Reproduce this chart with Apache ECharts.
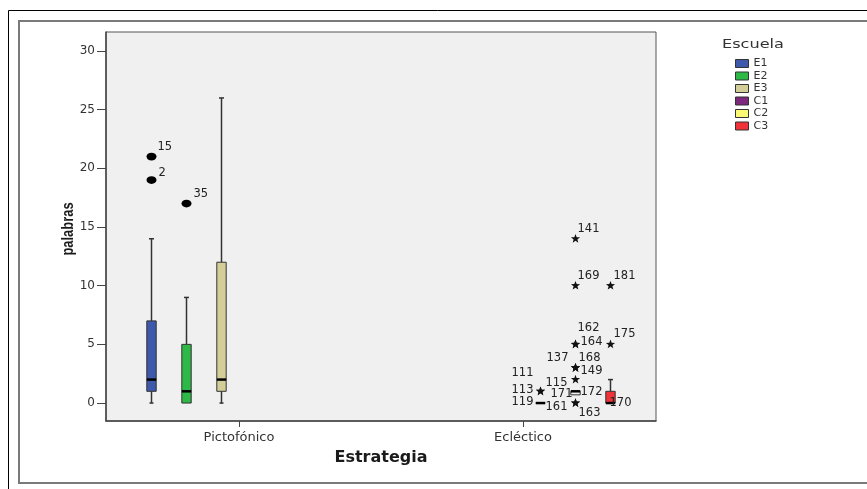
<!DOCTYPE html>
<html><head><meta charset="utf-8">
<script src="https://cdn.jsdelivr.net/npm/echarts@6/dist/echarts.min.js"></script>
<style>html,body{margin:0;padding:0;background:#fff}#c{width:867px;height:489px}</style>
</head><body><div id="c"></div>
<script>
// ---------------- data ----------------
const categories = ['Pictofónico', 'Ecléctico'];
const schools = ['E1', 'E2', 'E3', 'C1', 'C2', 'C3'];
const schoolCategory = [0, 0, 0, 1, 1, 1];
const yTicks = [0, 5, 10, 15, 20, 25, 30];
// box statistics: [min, Q1, median, Q3, max]
const boxE1 = [0, 1, 2, 7, 14];
const boxE2 = [0, 0, 1, 5, 9];
const boxE3 = [0, 1, 2, 12, 26];
const boxC1 = [0, 0, 0, 0, 0];
const boxC2 = [0.7, 0.7, 1, 1, 1];
const boxC3 = [0, 0, 0, 1, 2];
// outliers (circles) with case numbers
const outValuesE1 = [21, 19];   const outCasesE1 = [15, 2];
const outValuesE2 = [17];       const outCasesE2 = [35];
// extremes (stars) with case numbers
const extValuesC1 = [1, 1];     const extCasesC1 = [113, 111];
const extValuesC2 = [14, 10, 5, 5, 3, 3, 3, 2, 0, 0];
const extCasesC2  = [141, 169, 162, 164, 137, 168, 149, 115, 161, 163];
const extValuesC3 = [10, 5];    const extCasesC3 = [181, 175];
// case labels sitting on collapsed boxes
const tagValuesC1 = [0];        const tagCasesC1 = [119];
const tagValuesC2 = [1, 1];     const tagCasesC2 = [171, 172];
const tagValuesC3 = [0];        const tagCasesC3 = [170];

// ---------------- styles / layout ----------------
const colors = ['#3E58AC', '#2EB848', '#D3CE97', '#7C287D', '#FBF873', '#EF3338'];
const boxFilled = [true, true, true, true, false, true];
const slotUnits = 35 / 284;   // distance between school slots, in category units
const boxHalf = 4.7;          // px
const labelPos = {
  15: [6, -10, 'left'], 2: [7, -7, 'left'], 35: [7, -10, 'left'],
  141: [2, -10, 'left'], 169: [2, -10, 'left'], 162: [2, -16, 'left'], 164: [5, -2, 'left'],
  137: [-7, -10, 'right'], 168: [3, -10, 'left'], 149: [5, 3, 'left'], 115: [-8, 3, 'right'],
  161: [-8, 4, 'right'], 163: [3, 10, 'left'], 171: [-3, 3, 'right'], 172: [5, 1, 'left'],
  113: [-7, -1, 'right'], 111: [-7, -18, 'right'], 119: [-7, -1, 'right'],
  181: [3, -10, 'left'], 175: [3, -10, 'left'], 170: [-1, 0, 'left']
};
const FONT = 'DejaVu Sans';

const boxes = [boxE1, boxE2, boxE3, boxC1, boxC2, boxC3];
const slotX = i => schoolCategory[i] + (i - 2.5) * slotUnits;

const pointSets = [
  [0, outValuesE1, outCasesE1, 0], [1, outValuesE2, outCasesE2, 0],
  [3, extValuesC1, extCasesC1, 1], [4, extValuesC2, extCasesC2, 1], [5, extValuesC3, extCasesC3, 1],
  [3, tagValuesC1, tagCasesC1, 2], [4, tagValuesC2, tagCasesC2, 2], [5, tagValuesC3, tagCasesC3, 2]
];
const pointData = [];
pointSets.forEach(([s, vals, cases, kind]) => {
  vals.forEach((v, j) => pointData.push([slotX(s), v, kind, cases[j]]));
});

function starPoints(cx, cy, ro, ri) {
  const pts = [];
  for (let k = 0; k < 10; k++) {
    const r = k % 2 === 0 ? ro : ri;
    const a = -Math.PI / 2 + k * Math.PI / 5;
    pts.push([cx + r * Math.cos(a), cy + r * Math.sin(a)]);
  }
  return pts;
}

const boxSeries = schools.map((name, i) => ({
  type: 'custom',
  name: name,
  itemStyle: { color: colors[i] },
  encode: { x: 0, y: [1, 2, 3, 4, 5] },
  data: [[slotX(i)].concat(boxes[i])],
  z: 2,
  renderItem: function (params, api) {
    const xc = api.coord([api.value(0), 0])[0];
    const y = k => api.coord([0, api.value(k)])[1];
    const yMin = y(1), yQ1 = y(2), yMed = y(3), yQ3 = y(4), yMax = y(5);
    const ln = '#333';
    const ch = [];
    if (api.value(1) < api.value(2)) {
      ch.push({ type: 'line', shape: { x1: xc, y1: yQ1, x2: xc, y2: yMin }, style: { stroke: ln, lineWidth: 1.5 } });
      ch.push({ type: 'line', shape: { x1: xc - 2, y1: yMin, x2: xc + 2, y2: yMin }, style: { stroke: ln, lineWidth: 1.5 } });
    }
    if (api.value(5) > api.value(4)) {
      ch.push({ type: 'line', shape: { x1: xc, y1: yQ3, x2: xc, y2: yMax }, style: { stroke: ln, lineWidth: 1.5 } });
      ch.push({ type: 'line', shape: { x1: xc - 2.5, y1: yMax, x2: xc + 2.5, y2: yMax }, style: { stroke: ln, lineWidth: 1.5 } });
    }
    ch.push({ type: 'rect', shape: { x: xc - boxHalf, y: yQ3, width: 2 * boxHalf, height: yQ1 - yQ3 },
      style: { fill: boxFilled[i] ? colors[i] : 'none', stroke: ln, lineWidth: 1 } });
    ch.push({ type: 'line', shape: { x1: xc - boxHalf, y1: yMed, x2: xc + boxHalf, y2: yMed },
      style: { stroke: '#000', lineWidth: 2.5 } });
    return { type: 'group', children: ch };
  }
}));

const pointSeries = {
  type: 'custom',
  name: 'casos',
  encode: { x: 0, y: 1 },
  data: pointData,
  z: 5,
  renderItem: function (params, api) {
    const p = api.coord([api.value(0), api.value(1)]);
    const kind = api.value(2);
    const cs = api.value(3);
    const lp = labelPos[cs] || [4, -8, 'left'];
    const ch = [];
    if (kind === 0) {
      ch.push({ type: 'circle', x: p[0], y: p[1], scaleY: 0.78, shape: { cx: 0, cy: 0, r: 5 }, style: { fill: '#000' } });
    } else if (kind === 1) {
      ch.push({ type: 'polygon', shape: { points: starPoints(p[0], p[1], 4.8, 2.0) }, style: { fill: '#111' } });
    }
    ch.push({ type: 'text', x: p[0] + lp[0], y: p[1] + lp[1],
      style: { text: String(cs), fill: '#222', fontSize: 11.5, fontFamily: FONT, align: lp[2], verticalAlign: 'middle' } });
    return { type: 'group', children: ch };
  }
};

const chart = echarts.init(document.getElementById('c'), null, { renderer: 'canvas' });
chart.setOption({
  animation: false,
  backgroundColor: '#ffffff',
  textStyle: { fontFamily: FONT },
  grid: { left: 106, top: 32, width: 550, height: 389, show: true, backgroundColor: '#f0f0f0', borderColor: '#555', borderWidth: 1 },
  xAxis: {
    type: 'value', min: -0.4683, max: 1.4683,
    axisLine: { show: true, onZero: false, lineStyle: { color: '#444', width: 1.5 } },
    axisTick: { show: true, customValues: [0, 1], length: 6, lineStyle: { color: '#444' } },
    axisLabel: { customValues: [0, 1], formatter: v => categories[Math.round(v)], fontSize: 13, color: '#333', margin: 10, fontFamily: FONT },
    splitLine: { show: false },
    name: 'Estrategia', nameLocation: 'middle', nameGap: 29,
    nameTextStyle: { fontSize: 16, fontWeight: 'bold', color: '#1a1a1a', fontFamily: FONT }
  },
  yAxis: {
    type: 'value', min: -1.53, max: 31.62,
    axisLine: { show: true, onZero: false, lineStyle: { color: '#444', width: 1.5 } },
    axisTick: { show: true, customValues: yTicks, length: 9, lineStyle: { color: '#444' } },
    axisLabel: { customValues: yTicks, fontSize: 12, color: '#333', margin: 11, fontFamily: FONT },
    splitLine: { show: false }
  },
  legend: {
    data: schools, orient: 'vertical', left: 735, top: 58,
    itemWidth: 13, itemHeight: 8, itemGap: 1.5, icon: 'rect',
    itemStyle: { borderColor: '#333', borderWidth: 1 },
    textStyle: { fontSize: 11, lineHeight: 11, color: '#333', fontFamily: FONT },
    padding: 0
  },
  graphic: [
    { type: 'line', shape: { x1: 8.5, y1: 10.5, x2: 867, y2: 10.5 }, style: { stroke: '#000', lineWidth: 1 }, silent: true },
    { type: 'line', shape: { x1: 8.5, y1: 10.5, x2: 8.5, y2: 489 }, style: { stroke: '#000', lineWidth: 1 }, silent: true },
    { type: 'rect', shape: { x: 19, y: 21, width: 900, height: 462 }, style: { fill: 'none', stroke: '#7a7a7a', lineWidth: 2 }, silent: true },
    { type: 'text', x: 722, y: 45, scaleX: 1.24, style: { text: 'Escuela', fontSize: 13, fontFamily: FONT, fill: '#333', align: 'left', verticalAlign: 'middle' } },
    { type: 'text', x: 68, y: 229, rotation: Math.PI / 2, scaleX: 0.76,
      style: { text: 'palabras', fontSize: 17, fontWeight: 'bold', fontFamily: 'Liberation Sans, Arial, sans-serif', fill: '#1a1a1a', align: 'center', verticalAlign: 'middle' } }
  ],
  series: boxSeries.concat([pointSeries])
});
</script>
</body></html>
